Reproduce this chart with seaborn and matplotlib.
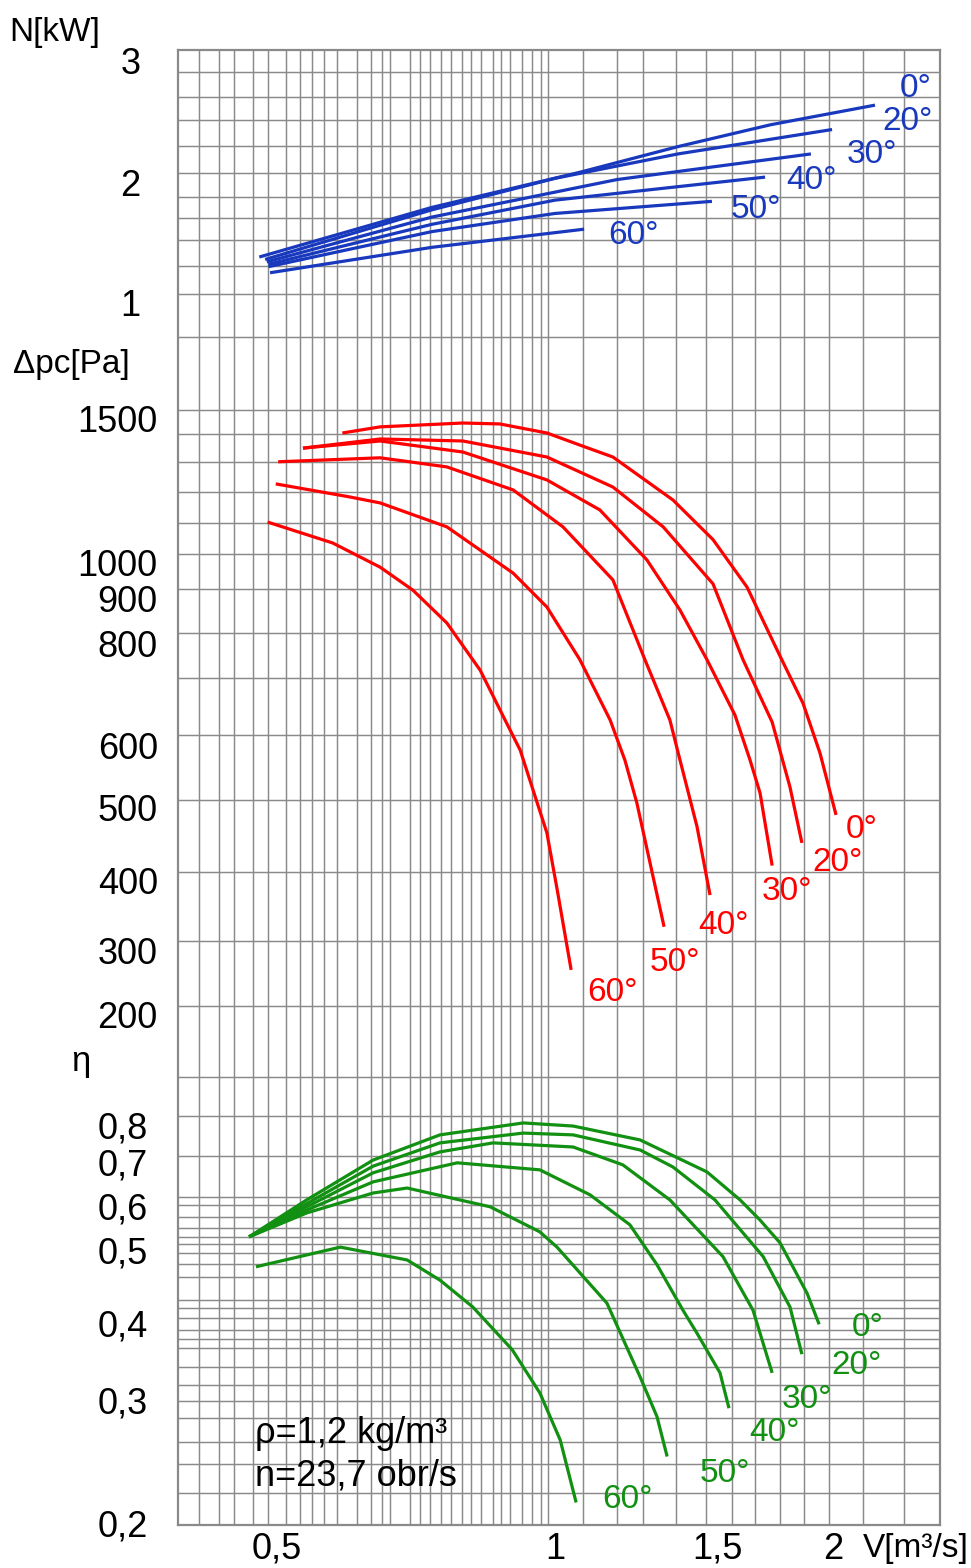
import numpy as np
import pandas as pd
import matplotlib
matplotlib.use("Agg")
import matplotlib.pyplot as plt
from matplotlib.ticker import NullLocator
import seaborn as sns

# ---------------- chart values ----------------
ANGLES = ["0°", "20°", "30°", "40°", "50°", "60°"]

# Power N [kW] vs flow V [m3/s]
N_V_0 = [0.479, 0.736, 1.064, 1.358, 1.712, 2.218]
N_KW_0 = [1.38, 1.79, 2.08, 2.29, 2.47, 2.63]
N_V_20 = [0.486, 0.736, 1.0, 1.358, 1.993]
N_KW_20 = [1.36, 1.77, 2.03, 2.23, 2.43]
N_V_30 = [0.488, 0.736, 1.167, 1.891]
N_KW_30 = [1.34, 1.71, 2.02, 2.23]
N_V_40 = [0.490, 0.736, 1.0, 1.687]
N_KW_40 = [1.32, 1.65, 1.85, 2.04]
N_V_50 = [0.490, 0.736, 1.0, 1.478]
N_KW_50 = [1.30, 1.59, 1.74, 1.84]
N_V_60 = [0.492, 0.736, 1.075]
N_KW_60 = [1.25, 1.46, 1.61]

# Total pressure Δpc [Pa] vs V
DP_V_0 = [0.589, 0.647, 0.795, 0.872, 0.980, 1.073, 1.155, 1.341, 1.482, 1.613, 1.751, 1.854, 1.934, 2.013]
DP_0 = [1438, 1463, 1479, 1475, 1438, 1385, 1344, 1191, 1065, 929, 771, 675, 586, 488]
DP_V_20 = [0.534, 0.647, 0.795, 0.980, 1.155, 1.309, 1.482, 1.597, 1.717, 1.795, 1.849]
DP_20 = [1378, 1414, 1406, 1344, 1235, 1104, 938, 763, 640, 530, 448]
DP_V_30 = [0.534, 0.647, 0.795, 0.980, 1.118, 1.257, 1.365, 1.460, 1.565, 1.625, 1.666, 1.717]
DP_30 = [1378, 1406, 1363, 1260, 1158, 1006, 872, 763, 653, 574, 521, 418]
DP_V_40 = [0.502, 0.647, 0.764, 0.901, 1.020, 1.155, 1.251, 1.331, 1.365, 1.424, 1.471]
DP_40 = [1326, 1341, 1307, 1225, 1104, 949, 763, 644, 574, 471, 376]
DP_V_50 = [0.499, 0.600, 0.647, 0.764, 0.901, 0.980, 1.064, 1.147, 1.190, 1.226, 1.312]
DP_50 = [1246, 1201, 1181, 1104, 968, 879, 763, 644, 574, 506, 330]
DP_V_60 = [0.489, 0.575, 0.647, 0.702, 0.764, 0.830, 0.883, 0.917, 0.980, 1.007, 1.041]
DP_60 = [1119, 1055, 985, 921, 843, 741, 644, 591, 462, 379, 265]

# Efficiency η vs V
ETA_V_0 = [0.467, 0.539, 0.636, 0.751, 0.924, 1.046, 1.236, 1.460, 1.585, 1.666, 1.751, 1.873, 1.930]
ETA_0 = [0.528, 0.613, 0.705, 0.772, 0.806, 0.797, 0.758, 0.676, 0.613, 0.566, 0.515, 0.438, 0.398]
ETA_V_20 = [0.467, 0.539, 0.636, 0.751, 0.924, 1.046, 1.236, 1.341, 1.489, 1.679, 1.795, 1.849]
ETA_20 = [0.528, 0.605, 0.690, 0.750, 0.777, 0.772, 0.731, 0.688, 0.613, 0.490, 0.420, 0.356]
ETA_V_30 = [0.467, 0.539, 0.636, 0.751, 0.857, 1.046, 1.184, 1.331, 1.519, 1.637, 1.717]
ETA_30 = [0.528, 0.598, 0.674, 0.726, 0.750, 0.739, 0.693, 0.613, 0.490, 0.416, 0.332]
ETA_V_40 = [0.467, 0.539, 0.636, 0.784, 0.963, 1.091, 1.205, 1.289, 1.375, 1.424, 1.508, 1.542]
ETA_40 = [0.528, 0.590, 0.653, 0.698, 0.681, 0.624, 0.555, 0.478, 0.416, 0.385, 0.332, 0.292]
ETA_V_50 = [0.467, 0.539, 0.636, 0.692, 0.851, 0.963, 1.005, 1.138, 1.236, 1.289, 1.322]
ETA_50 = [0.528, 0.583, 0.628, 0.639, 0.598, 0.539, 0.506, 0.425, 0.327, 0.284, 0.249]
ETA_V_60 = [0.475, 0.586, 0.692, 0.751, 0.815, 0.899, 0.963, 1.013, 1.054]
ETA_60 = [0.475, 0.506, 0.485, 0.456, 0.420, 0.362, 0.308, 0.263, 0.214]

# axis ticks
X_TICKS = [0.5, 1.0, 1.5, 2.0]
X_TICK_LABELS = ["0,5", "1", "1,5", "2"]
N_TICKS = [1, 2, 3]
N_TICK_LABELS = ["1", "2", "3"]
DP_TICKS = [200, 300, 400, 500, 600, 800, 900, 1000, 1500]
DP_TICK_LABELS = ["200", "300", "400", "500", "600", "800", "900", "1000", "1500"]
ETA_TICKS = [0.2, 0.3, 0.4, 0.5, 0.6, 0.7, 0.8]
ETA_TICK_LABELS = ["0,2", "0,3", "0,4", "0,5", "0,6", "0,7", "0,8"]

# ---------------- layout / style ----------------
FIG_W, FIG_H = 971, 1568
PLOT_L, PLOT_R, PLOT_T, PLOT_B = 178, 940, 50, 1525
X_ONE_PX, X_PX_PER_DEC = 555, 925
# vertical placement of the tick values (pixel rows of the printed labels)
N_TICK_PX = [303, 182, 60]
DP_TICK_PX = [1015, 950, 880, 807, 745, 643, 598, 562, 418]
ETA_TICK_PX = [1523, 1400, 1323, 1250, 1206, 1162, 1125]
# irregular background grid of the original chart (pixel positions)
GRID_X_PX = [199, 219, 234, 253, 268, 286, 300, 312, 324, 337, 357, 371, 382, 390,
             410, 420, 430, 441, 451, 462, 471, 481, 493, 501, 510, 522, 532, 541,
             548, 583, 617, 643, 676, 706, 732, 755, 780, 804, 829, 863, 904]
GRID_Y_PX = [72, 97, 120, 146, 173, 197, 218, 240, 266, 294, 337, 410, 434, 462, 492,
             523, 554, 589, 633, 678, 735, 800, 872, 941, 1006, 1077, 1116, 1156, 1197,
             1205, 1217, 1228, 1237, 1244, 1253, 1264, 1277, 1300, 1308, 1318, 1330,
             1339, 1348, 1367, 1385, 1401, 1418, 1442, 1464, 1493]

BLUE, RED, GREEN = "#1838bd", "#ff0000", "#119011"
GRID_COLOR = "#8a8a8a"
LINE_W = 2.3

LABEL_OFF_N = {"0°": (41, 17), "20°": (76, 8), "30°": (61, -1),
               "40°": (46, -3), "50°": (44, -8), "60°": (49, -6)}
LABEL_OFF_DP = {"0°": (26, -15), "20°": (36, -20), "30°": (15, -26),
                "40°": (13, -30), "50°": (11, -36), "60°": (41, -23)}
LABEL_OFF_ETA = {"0°": (49, -3), "20°": (55, -11), "30°": (35, -27),
                 "40°": (46, -24), "50°": (58, -17), "60°": (51, 3)}

sns.set_theme(style="white")
plt.rcParams['font.family'] = ['Liberation Sans', 'DejaVu Sans']
plt.rcParams['text.color'] = 'black'


def long_frame(pairs, col):
    rows = []
    for ang, (vs, ys) in zip(ANGLES, pairs):
        for v, y in zip(vs, ys):
            rows.append({"V": v, col: y, "angle": ang})
    return pd.DataFrame(rows)


df_n = long_frame([(N_V_0, N_KW_0), (N_V_20, N_KW_20), (N_V_30, N_KW_30),
                   (N_V_40, N_KW_40), (N_V_50, N_KW_50), (N_V_60, N_KW_60)], "N")
df_dp = long_frame([(DP_V_0, DP_0), (DP_V_20, DP_20), (DP_V_30, DP_30),
                    (DP_V_40, DP_40), (DP_V_50, DP_50), (DP_V_60, DP_60)], "dp")
df_eta = long_frame([(ETA_V_0, ETA_0), (ETA_V_20, ETA_20), (ETA_V_30, ETA_30),
                     (ETA_V_40, ETA_40), (ETA_V_50, ETA_50), (ETA_V_60, ETA_60)], "eta")


def interp_ext(x, xp, fp):
    x = np.asarray(x, dtype=float)
    xp = np.asarray(xp, dtype=float)
    fp = np.asarray(fp, dtype=float)
    y = np.interp(x, xp, fp)
    lo = (fp[1] - fp[0]) / (xp[1] - xp[0])
    hi = (fp[-1] - fp[-2]) / (xp[-1] - xp[-2])
    y = np.where(x < xp[0], fp[0] + (x - xp[0]) * lo, y)
    y = np.where(x > xp[-1], fp[-1] + (x - xp[-1]) * hi, y)
    return y


def calibrated_scale(ax, ticks, tick_px, log):
    tv = np.log10(ticks) if log else np.asarray(ticks, float)
    up = -np.asarray(tick_px, dtype=float)

    def fwd(v):
        v = np.asarray(v, dtype=float)
        if log:
            v = np.log10(np.clip(v, 1e-9, None))
        return interp_ext(v, tv, up)

    def inv(u):
        r = interp_ext(u, up, tv)
        return 10 ** r if log else r

    ax.set_yscale("function", functions=(fwd, inv))
    return inv


def rect(top_px, bot_px):
    return [PLOT_L / FIG_W, 1 - bot_px / FIG_H,
            (PLOT_R - PLOT_L) / FIG_W, (bot_px - top_px) / FIG_H]


def px(x, y):
    return x / FIG_W, 1 - y / FIG_H


fig = plt.figure(figsize=(FIG_W / 100, FIG_H / 100), dpi=100)

# background grid
bg = fig.add_axes(rect(PLOT_T, PLOT_B), zorder=0)
bg.set_xlim(PLOT_L, PLOT_R)
bg.set_ylim(PLOT_B, PLOT_T)
bg.set_xticks(GRID_X_PX)
bg.set_yticks(GRID_Y_PX)
bg.tick_params(length=0, labelbottom=False, labelleft=False)
bg.grid(True, color=GRID_COLOR, linewidth=1.05)
for s in bg.spines.values():
    s.set_color(GRID_COLOR)
    s.set_linewidth(1.6)

VMIN = 10 ** ((PLOT_L - X_ONE_PX) / X_PX_PER_DEC)
VMAX = 10 ** ((PLOT_R - X_ONE_PX) / X_PX_PER_DEC)

panels = [
    (df_n, "N", BLUE, (PLOT_T, 340), N_TICKS, N_TICK_PX, N_TICK_LABELS, False, 27, LABEL_OFF_N),
    (df_dp, "dp", RED, (340, 1080), DP_TICKS, DP_TICK_PX, DP_TICK_LABELS, True, 14.5, LABEL_OFF_DP),
    (df_eta, "eta", GREEN, (1080, PLOT_B), ETA_TICKS, ETA_TICK_PX, ETA_TICK_LABELS, True, 21.5, LABEL_OFF_ETA),
]

for i, (df, col, color, (top, bot), ticks, tpx, tlabels, log, pad, offs) in enumerate(panels):
    ax = fig.add_axes(rect(top, bot), zorder=2 + i)
    sns.lineplot(data=df, x="V", y=col, hue="angle", hue_order=ANGLES,
                 palette={a: color for a in ANGLES}, estimator=None, sort=False,
                 legend=False, linewidth=LINE_W, ax=ax)
    for ln in ax.get_lines():
        ln.set_solid_joinstyle("round")
        ln.set_solid_capstyle("butt")
    ax.set_xscale("log")
    ax.set_xlim(VMIN, VMAX)
    inv = calibrated_scale(ax, ticks, tpx, log)
    ax.set_ylim(float(inv(-bot)), float(inv(-top)))
    ax.set_yticks(ticks)
    ax.set_yticklabels(tlabels)
    ax.yaxis.set_minor_locator(NullLocator())
    ax.xaxis.set_minor_locator(NullLocator())
    ax.set_xlabel("")
    ax.set_ylabel("")
    ax.patch.set_alpha(0)
    ax.grid(False)
    for s in ax.spines.values():
        s.set_visible(False)
    ax.tick_params(axis="y", length=0, pad=pad, labelsize=26, labelcolor="black")
    if i == 2:
        ax.set_xticks(X_TICKS)
        ax.set_xticklabels(X_TICK_LABELS)
        ax.xaxis.set_minor_locator(NullLocator())
        ax.tick_params(axis="x", length=0, pad=5, labelsize=26, labelcolor="black")
    else:
        ax.set_xticks([])
    for ang in ANGLES:
        sub = df[df["angle"] == ang]
        ax.annotate(ang, xy=(sub["V"].iloc[-1], sub[col].iloc[-1]),
                    xytext=offs[ang], textcoords="offset pixels",
                    ha="center", va="center", color=color, fontsize=24)

fig.text(*px(55, 33), "N[kW]", ha="center", va="center", fontsize=24, color="black")
fig.text(*px(71, 365), "Δpc[Pa]", ha="center", va="center", fontsize=24, color="black")
fig.text(*px(81, 1062), "η", ha="center", va="center", fontsize=25, color="black")
fig.text(*px(969, 1548), "V[m³/s]", ha="right", va="center", fontsize=24, color="black")
fig.text(*px(255, 1443), "ρ=1,2 kg/m³", ha="left", va="baseline", fontsize=26, color="black")
fig.text(*px(255, 1486), "n=23,7 obr/s", ha="left", va="baseline", fontsize=26, color="black")

fig.savefig("out.png", dpi=100)
